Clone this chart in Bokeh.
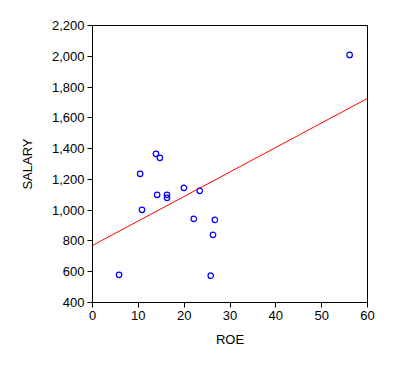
import numpy as np
from bokeh.plotting import figure
from bokeh.models import Range1d, NumeralTickFormatter, FixedTicker
from bokeh.embed import file_html
from bokeh.resources import INLINE

roe = [5.8, 10.4, 10.8, 13.85, 14.7, 14.1, 16.25, 16.25, 19.95, 23.4, 22.1, 26.7, 26.3, 25.8, 56.1]
salary = [580, 1236, 1002, 1366, 1340, 1100, 1100, 1080, 1145, 1126, 944, 937, 840, 574, 2009]
x_ticks = [0, 10, 20, 30, 40, 50, 60]
y_ticks = [400, 600, 800, 1000, 1200, 1400, 1600, 1800, 2000, 2200]

slope, intercept = np.polyfit(roe, salary, 1)
fit_x = [x_ticks[0], x_ticks[-1]]
fit_y = [intercept + slope * v for v in fit_x]

FONT = "Liberation Sans"

p = figure(width=385, height=366, output_backend="svg", toolbar_location=None,
           x_range=Range1d(0, 60), y_range=Range1d(400, 2200),
           min_border_left=92, min_border_right=18, min_border_top=25, min_border_bottom=64)

p.line(fit_x, fit_y, line_color="#ff0000", line_width=1)
p.scatter(roe, salary, marker="circle", size=5.5, fill_color=None, line_color="#0000ff", line_width=1.2)

p.xgrid.visible = False
p.ygrid.visible = False
p.outline_line_color = "black"
p.outline_line_width = 1
p.outline_line_alpha = 1

for ax in (p.xaxis[0], p.yaxis[0]):
    ax.minor_tick_line_color = None
    ax.major_tick_in = 0
    ax.major_tick_out = 5
    ax.axis_line_color = "black"
    ax.major_tick_line_color = "black"
    ax.major_label_text_font = FONT
    ax.major_label_text_font_size = "13px"
    ax.major_label_text_color = "black"
    ax.axis_label_text_font = FONT
    ax.axis_label_text_font_size = "13px"
    ax.axis_label_text_font_style = "normal"
    ax.axis_label_text_color = "black"
    ax.major_label_standoff = 3

p.xaxis[0].ticker = FixedTicker(ticks=x_ticks)
p.yaxis[0].ticker = FixedTicker(ticks=y_ticks)
p.yaxis[0].formatter = NumeralTickFormatter(format="0,0")
p.xaxis[0].axis_label = "ROE"
p.yaxis[0].axis_label = "SALARY"
p.xaxis[0].axis_label_standoff = 9
p.yaxis[0].axis_label_standoff = 14

open("out.html", "w").write(file_html(p, INLINE))
